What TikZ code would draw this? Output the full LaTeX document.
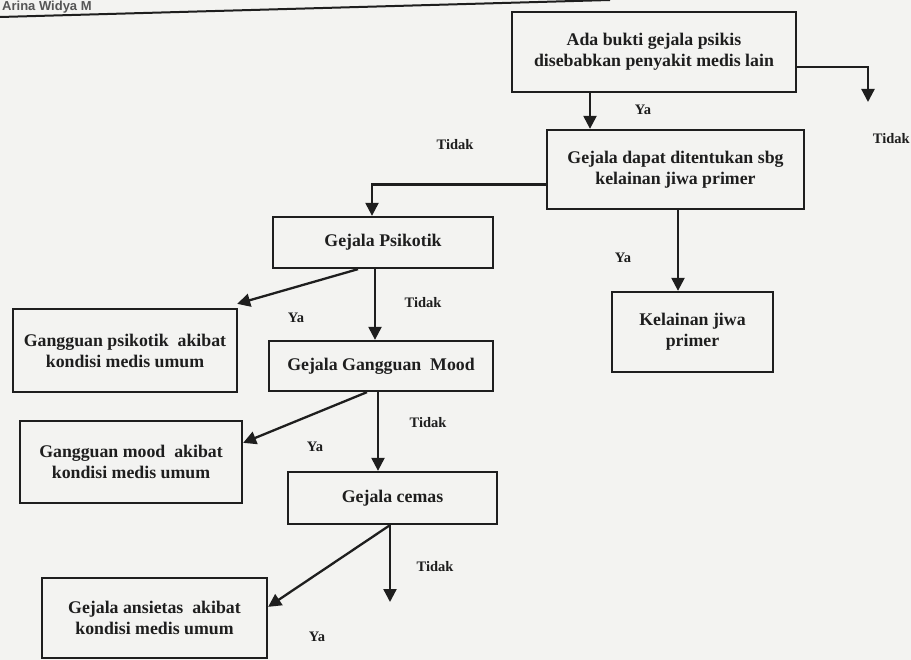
\documentclass[tikz,border=0pt]{standalone}
\usepackage{fontspec}
\setmainfont{Liberation Serif}
\newfontfamily\hdrfont{Liberation Sans}
\usetikzlibrary{arrows.meta}
\definecolor{ink}{HTML}{1E1E1E}
\definecolor{paper}{HTML}{F3F3F1}
\tikzset{
  box/.style={draw=ink, line width=2.3pt, fill=none, align=center, inner sep=0pt,
    font=\fontsize{17.8}{21}\selectfont\bfseries, text=ink},
  arr/.style={draw=ink, line width=2.3pt, -{Triangle[length=13pt,width=13pt]}},
  conn/.style={draw=ink, line width=2.3pt},
  lbl/.style={font=\fontsize{14.5}{17}\selectfont\bfseries, text=ink, inner sep=0pt}
}
\begin{document}
\begin{tikzpicture}[x=1pt,y=-1pt]
\useasboundingbox (0,0) rectangle (911,660);
\fill[paper] (0,0) rectangle (911,660);
% header of the scanned page
\node[anchor=base west, inner sep=0pt, font=\hdrfont\fontsize{13}{15}\selectfont\bfseries, text=ink!75] (hdr) at (2,11) {Arina Widya M};
\coordinate (hl1) at (0,17);
\coordinate (hl2) at (610,0);
\draw[conn, line width=2pt] (hl1) -- (hl2);

% boxes
\node[box, minimum width=284pt, minimum height=80pt] (n1) at (654,52) {Ada bukti gejala psikis\\disebabkan penyakit medis lain};
\node[box, minimum width=257pt, minimum height=79pt] (n2) at (675.5,169.5) {Gejala dapat ditentukan sbg\\kelainan jiwa primer};
\node[box, minimum width=220pt, minimum height=51pt] (n3) at (383,242.5) {Gejala Psikotik};
\node[box, minimum width=224pt, minimum height=83pt] (n4) at (125,350.5) {Gangguan psikotik~ akibat\\kondisi medis umum};
\node[box, minimum width=224pt, minimum height=50pt] (n5) at (381,366) {Gejala Gangguan~ Mood};
\node[box, minimum width=222pt, minimum height=82pt] (n6) at (131,462) {Gangguan mood~ akibat\\kondisi medis umum};
\node[box, minimum width=209pt, minimum height=52pt] (n7) at (392.5,498) {Gejala cemas};
\node[box, minimum width=225pt, minimum height=80pt] (n8) at (154.5,618) {Gejala ansietas~ akibat\\kondisi medis umum};
\node[box, minimum width=161pt, minimum height=80pt] (n9) at (692.5,332) {Kelainan jiwa\\primer};

% guide coordinates
\coordinate (x1) at (590,0);
\coordinate (t1) at (868,102);
\coordinate (x2) at (372,0);
\coordinate (x3) at (678,0);
\coordinate (x4) at (375,0);
\coordinate (x5) at (358,0);
\coordinate (x6) at (378,0);
\coordinate (x7) at (367,0);
\coordinate (x8) at (390,0);
\coordinate (t8) at (390,602);

% connectors
\draw[arr] (x1 |- n1.south) -- (x1 |- n2.north);
\draw[arr] ([yshift=-15pt]n1.east) -| (t1);
\draw[arr] ([yshift=-15pt]n2.west) -| (x2 |- n3.north);
\draw[arr] (x3 |- n2.south) -- (x3 |- n9.north);
\draw[arr] (x4 |- n3.south) -- (x4 |- n5.north);
\draw[arr] (x5 |- n3.south) -- ([xshift=-1pt,yshift=4pt]n4.north east);
\draw[arr] (x6 |- n5.south) -- (x6 |- n7.north);
\draw[arr] (x7 |- n5.south) -- ([yshift=-23pt]n6.north east);
\draw[arr] (x8 |- n7.south) -- (t8);
\draw[arr] (x8 |- n7.south) -- ([yshift=-30pt]n8.north east);

% labels
\node[lbl] (l1) at (643,110) {Ya};
\node[lbl, anchor=east] (l2) at (910,139) {Tidak};
\node[lbl] (l3) at (455,145) {Tidak};
\node[lbl] (l4) at (623,258) {Ya};
\node[lbl] (l5) at (423,303) {Tidak};
\node[lbl] (l6) at (296,318) {Ya};
\node[lbl] (l7) at (428,423) {Tidak};
\node[lbl] (l8) at (315,447) {Ya};
\node[lbl] (l9) at (435,567) {Tidak};
\node[lbl] (l10) at (317,637) {Ya};
\end{tikzpicture}
\end{document}
